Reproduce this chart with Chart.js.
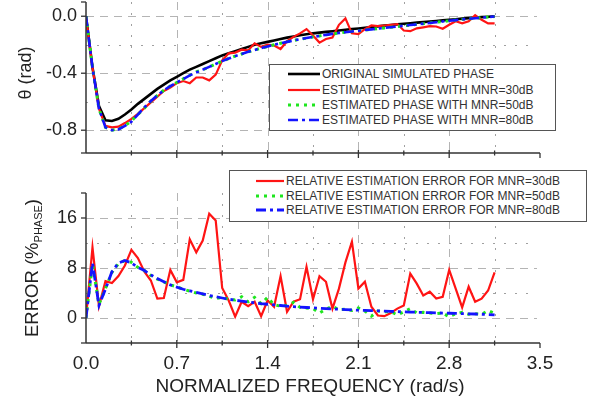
<!DOCTYPE html>
<html>
<head>
<meta charset="utf-8">
<title>Phase estimation</title>
<script src="https://cdn.jsdelivr.net/npm/chart.js@4.4.1/dist/chart.umd.min.js"></script>
<style>
    body { margin: 0; background: #fff; }
    #page {
        position: relative; width: 590px; height: 401px; overflow: hidden;
        font-family: "Liberation Sans", Arial, sans-serif; color: #222;
    }
    #page > canvas { position: absolute; left: 0; z-index: 1; }
    #phaseChart { top: 0; }
    #errorChart { top: 160px; }
    #gridLayer { position: absolute; left: 0; top: 0; width: 590px; height: 401px; z-index: 0; }
    .axisTitle {
        position: absolute; white-space: nowrap; line-height: 1;
        transform: translate(-50%, -50%); z-index: 4;
    }
    .axisTitle.vert { transform: translate(-50%, -50%) rotate(-90deg); }
    .axisTitle sub { font-size: 11px; vertical-align: -4px; }
    .legend {
        position: absolute; background: #fff; border: 1px solid #555;
        box-sizing: border-box; z-index: 5;
    }
    .legend canvas { position: absolute; }
    .legendText {
        position: absolute; white-space: nowrap; font-size: 12px;
        line-height: 14px; height: 14px; color: #333;
    }
</style>
</head>
<body>
<div id="page">
    <div id="gridLayer"></div>
    <canvas id="phaseChart" width="590" height="165"></canvas>
    <canvas id="errorChart" width="590" height="241"></canvas>

    <div class="legend" id="phaseLegend" style="left:269px;top:64px;width:287px;height:67px"></div>
    <div class="legend" id="errorLegend" style="left:229px;top:170px;width:358px;height:52px"></div>

    <div class="axisTitle vert" style="left:25px;top:73px;font-size:18px">θ (rad)</div>
    <div class="axisTitle vert" style="left:33px;top:268px;font-size:18.5px">ERROR (%<sub>PHASE</sub>)</div>
    <div class="axisTitle" style="left:310px;top:385px;font-size:19px">NORMALIZED FREQUENCY (rad/s)</div>
</div>

<script>
/* -----------------------------------------
   Data
----------------------------------------- */
const freq = [
    0.00, 0.05, 0.10, 0.15, 0.20, 0.25, 0.30, 0.35, 0.40, 0.45,
    0.50, 0.55, 0.60, 0.65, 0.70, 0.75, 0.80, 0.85, 0.90, 0.95,
    1.00, 1.05, 1.10, 1.15, 1.20, 1.25, 1.30, 1.35, 1.40, 1.45,
    1.50, 1.55, 1.60, 1.65, 1.70, 1.75, 1.80, 1.85, 1.90, 1.95,
    2.00, 2.05, 2.10, 2.15, 2.20, 2.25, 2.30, 2.35, 2.40, 2.45,
    2.50, 2.55, 2.60, 2.65, 2.70, 2.75, 2.80, 2.85, 2.90, 2.95,
    3.00, 3.05, 3.10, 3.15
];

const xTicks = [0, 0.7, 1.4, 2.1, 2.8, 3.5];
const xMinor = [0.35, 1.05, 1.75, 2.45, 3.15];
const phaseTicks = [-0.8, -0.4, 0];
const phaseMinor = [-0.6, -0.2];
const errorTicks = [0, 8, 16];
const errorMinor = [4, 12];

// phase (rad)
const phaseOriginal = [
    0, -0.36, -0.63, -0.73, -0.735, -0.72, -0.69, -0.655, -0.615, -0.58,
    -0.545, -0.51, -0.48, -0.45, -0.425, -0.40, -0.375, -0.355, -0.335, -0.315,
    -0.295, -0.275, -0.26, -0.245, -0.23, -0.215, -0.20, -0.19, -0.18, -0.17,
    -0.16, -0.15, -0.142, -0.134, -0.127, -0.12, -0.115, -0.11, -0.105, -0.10,
    -0.095, -0.09, -0.086, -0.081, -0.076, -0.071, -0.066, -0.061, -0.057, -0.053,
    -0.049, -0.045, -0.041, -0.037, -0.033, -0.029, -0.025, -0.021, -0.017, -0.013,
    -0.010, -0.006, -0.003, 0
];
const phase30 = [
    0, -0.36, -0.65, -0.77, -0.78, -0.775, -0.75, -0.72, -0.685, -0.645,
    -0.605, -0.565, -0.525, -0.50, -0.47, -0.455, -0.47, -0.43, -0.43, -0.45,
    -0.41, -0.31, -0.26, -0.255, -0.235, -0.24, -0.19, -0.215, -0.20, -0.205,
    -0.23, -0.175, -0.145, -0.12, -0.09, -0.135, -0.185, -0.16, -0.15, -0.06,
    -0.015, -0.12, -0.125, -0.09, -0.065, -0.07, -0.065, -0.06, -0.055, -0.10,
    -0.105, -0.085, -0.078, -0.07, -0.072, -0.088, -0.06, -0.035, -0.05, -0.035,
    0.007, -0.025, -0.05, -0.05
];
const phase50 = [
    0, -0.36, -0.65, -0.78, -0.80, -0.79, -0.77, -0.735, -0.69, -0.645,
    -0.595, -0.555, -0.52, -0.49, -0.465, -0.44, -0.415, -0.39, -0.375, -0.355,
    -0.335, -0.315, -0.297, -0.28, -0.265, -0.25, -0.237, -0.224, -0.212, -0.20,
    -0.19, -0.18, -0.17, -0.161, -0.153, -0.145, -0.138, -0.131, -0.124, -0.118,
    -0.112, -0.107, -0.102, -0.097, -0.092, -0.087, -0.082, -0.077, -0.072, -0.067,
    -0.062, -0.057, -0.052, -0.047, -0.042, -0.037, -0.032, -0.027, -0.022, -0.018,
    -0.014, -0.010, -0.006, -0.002
];
const phase80 = [
    0, -0.36, -0.65, -0.78, -0.80, -0.795, -0.77, -0.74, -0.69, -0.64,
    -0.595, -0.555, -0.52, -0.49, -0.465, -0.44, -0.415, -0.395, -0.375, -0.355,
    -0.335, -0.315, -0.297, -0.28, -0.265, -0.25, -0.237, -0.224, -0.212, -0.20,
    -0.19, -0.18, -0.17, -0.161, -0.153, -0.145, -0.138, -0.131, -0.124, -0.118,
    -0.112, -0.107, -0.102, -0.097, -0.092, -0.087, -0.082, -0.077, -0.072, -0.067,
    -0.062, -0.057, -0.052, -0.047, -0.042, -0.037, -0.032, -0.027, -0.022, -0.018,
    -0.014, -0.010, -0.006, -0.002
];

// relative error (%)
const error30 = [
    0, 11.3, 1.9, 5.9, 5.6, 6.7, 8.4, 10.9, 9.6, 7.4,
    6.0, 3.1, 3.2, 7.7, 5.7, 6.1, 12.6, 10.5, 12.4, 16.7,
    15.6, 4.8, 2.8, 0.2, 2.6, 1.9, 2.6, 0.3, 2.8, 1.8,
    6.7, 1.0, 2.6, 3.0, 8.2, 3.0, 6.7, 5.8, 1.5, 4.7,
    8.9, 12.2, 4.7, 5.8, 1.8, 0.4, 0.3, 0.8, 1.5, 2.0,
    7.1, 5.5, 3.6, 4.2, 3.1, 3.4, 7.7, 4.7, 1.7, 5.0,
    2.6, 3.1, 4.4, 7.3
];
const error50 = [
    0, 8.6, 2.2, 4.7, 7.3, 8.7, 9.2, 8.9, 8.1, 7.6,
    6.8, 6.2, 5.8, 5.3, 5.0, 4.6, 4.3, 4.0, 3.8, 3.5,
    3.1, 3.3, 3.0, 2.9, 3.4, 2.6, 3.3, 2.3, 3.3, 2.1,
    1.9, 2.0, 2.5, 1.7, 1.6, 1.5, 0.8, 1.4, 1.9, 1.3,
    1.4, 1.2, 1.6, 1.1, 0.3, 1.1, 1.0, 1.0, 0.5, 1.0,
    1.5, 0.8, 0.9, 0.8, 0.7, 0.8, 0.2, 0.7, 0.9, 0.6,
    0.7, 0.6, 1.2, 0.7
];
const error80 = [
    0, 8.8, 2.0, 4.6, 7.4, 8.8, 9.2, 8.8, 8.1, 7.6,
    6.9, 6.3, 5.8, 5.3, 4.95, 4.6, 4.35, 4.1, 3.85, 3.6,
    3.4, 3.2, 3.0, 2.85, 2.7, 2.56, 2.43, 2.3, 2.2, 2.1,
    2.0, 1.9, 1.82, 1.75, 1.68, 1.62, 1.56, 1.5, 1.45, 1.4,
    1.35, 1.3, 1.26, 1.22, 1.18, 1.14, 1.1, 1.06, 1.02, 0.98,
    0.95, 0.92, 0.88, 0.85, 0.82, 0.79, 0.76, 0.73, 0.7, 0.67,
    0.64, 0.6, 0.55, 0.5
];

/* -----------------------------------------
   Datasets
----------------------------------------- */
function toPoints(values) {
    return values.map((v, i) => ({ x: freq[i], y: v }));
}

function lineSet(label, values, color, width, dash, order) {
    return {
        label: label,
        data: toPoints(values),
        borderColor: color,
        borderWidth: width,
        borderDash: dash,
        pointRadius: 0,
        tension: 0,
        fill: false,
        order: order
    };
}

const RED = "#ff1414";
const GREEN = "#1ee61e";
const BLUE = "#1414ff";
const GRID = "#b4b4b4";
const GRID_DOT = "#a0a0a0";
const DOTS = [3, 5];
const DASH_DOT = [10, 4, 3, 4];

const phaseSets = [
    lineSet("ORIGINAL SIMULATED PHASE", phaseOriginal, "#000", 2.6, [], 3),
    lineSet("ESTIMATED PHASE WITH MNR=30dB", phase30, RED, 2.2, [], 2),
    lineSet("ESTIMATED PHASE WITH MNR=50dB", phase50, GREEN, 3, DOTS, 1),
    lineSet("ESTIMATED PHASE WITH MNR=80dB", phase80, BLUE, 2.6, DASH_DOT, 0)
];

const errorSets = [
    lineSet("RELATIVE ESTIMATION ERROR FOR MNR=30dB", error30, RED, 2.2, [], 2),
    lineSet("RELATIVE ESTIMATION ERROR FOR MNR=50dB", error50, GREEN, 3, DOTS, 1),
    lineSet("RELATIVE ESTIMATION ERROR FOR MNR=80dB", error80, BLUE, 2.8, DASH_DOT, 0)
];

/* -----------------------------------------
   Axis lines and tick marks
----------------------------------------- */
function strokeLine(ctx, x0, y0, x1, y1) {
    ctx.setLineDash([]);
    ctx.beginPath();
    ctx.moveTo(x0, y0);
    ctx.lineTo(x1, y1);
    ctx.stroke();
}

const axisLines = {
    id: "axisLines",
    afterDraw(chart) {
        const { ctx, chartArea: a, scales } = chart;
        const x = scales.x, y = scales.y;
        ctx.save();
        ctx.strokeStyle = "#333";
        ctx.lineWidth = 1.5;
        strokeLine(ctx, a.left, a.top, a.left, a.bottom);
        strokeLine(ctx, a.left, a.bottom, a.right, a.bottom);
        ctx.lineWidth = 1.3;
        xTicks.slice(1, -1).forEach(v => {
            const px = x.getPixelForValue(v);
            strokeLine(ctx, px, a.bottom - 3, px, a.bottom + 5);
        });
        xMinor.forEach(v => {
            const px = x.getPixelForValue(v);
            strokeLine(ctx, px, a.bottom - 2.5, px, a.bottom + 2.5);
        });
        strokeLine(ctx, a.right, a.bottom, a.right, a.bottom + 5);
        y.ticks.map(t => t.value).concat([y.min, y.max]).forEach(v => {
            const py = y.getPixelForValue(v);
            strokeLine(ctx, a.left - 5, py, a.left, py);
        });
        ctx.restore();
    }
};

/* -----------------------------------------
   Chart options
----------------------------------------- */
const tickFont = { family: "'Liberation Sans', Arial, sans-serif", size: 18 };

function makeOptions(yMin, yMax, yTicks, digits, showX, xHeight, padTop) {
    return {
        responsive: false,
        animation: false,
        devicePixelRatio: 1,
        layout: { autoPadding: false, padding: { top: padTop, right: 50, bottom: 0, left: 0 } },
        plugins: {
            legend: { display: false },
            tooltip: { enabled: false }
        },
        scales: {
            x: {
                type: "linear",
                min: 0,
                max: 3.5,
                afterBuildTicks: s => { s.ticks = xTicks.map(v => ({ value: v })); },
                afterFit: s => { s.height = xHeight; s.paddingLeft = 0; s.paddingRight = 0; },
                grid: { display: false, drawTicks: false },
                border: { display: false },
                ticks: {
                    display: showX,
                    autoSkip: false,
                    maxRotation: 0,
                    padding: 9,
                    color: "#222",
                    font: { family: tickFont.family, size: 19 },
                    callback: v => Number(v).toFixed(1)
                }
            },
            y: {
                type: "linear",
                min: yMin,
                max: yMax,
                afterBuildTicks: s => { s.ticks = yTicks.map(v => ({ value: v })); },
                afterFit: s => { s.width = 86; s.paddingTop = 0; s.paddingBottom = 0; },
                grid: { display: false, drawTicks: false },
                border: { display: false },
                ticks: {
                    padding: 9,
                    color: "#222",
                    font: tickFont,
                    callback: v => Number(v).toFixed(digits)
                }
            }
        }
    };
}

/* -----------------------------------------
   Charts
----------------------------------------- */
const phaseChart = new Chart(document.getElementById("phaseChart"), {
    type: "line",
    data: { datasets: phaseSets },
    options: makeOptions(-0.96, 0.1, phaseTicks, 1, false, 12, 2),
    plugins: [axisLines]
});

const errorChart = new Chart(document.getElementById("errorChart"), {
    type: "line",
    data: { datasets: errorSets },
    options: makeOptions(-4, 20, errorTicks, 0, true, 58, 33),
    plugins: [axisLines]
});

/* -----------------------------------------
   Grid (placed from the chart scales)
----------------------------------------- */
function addGridLine(layer, vertical, pos, from, to, dash, color) {
    const d = document.createElement("div");
    const p = Math.round(pos);
    const period = dash[0] + dash[1];
    d.style.position = "absolute";
    d.style.background = "repeating-linear-gradient(" + (vertical ? "to bottom" : "to right") + ", " +
        color + " 0px, " + color + " " + dash[0] + "px, transparent " + dash[0] + "px, transparent " + period + "px)";
    if (vertical) {
        d.style.left = p + "px";
        d.style.top = from + "px";
        d.style.width = "1px";
        d.style.height = (to - from) + "px";
    } else {
        d.style.left = from + "px";
        d.style.top = p + "px";
        d.style.width = (to - from) + "px";
        d.style.height = "1px";
    }
    layer.appendChild(d);
}

function buildGrid(chart, yMinorValues) {
    const layer = document.getElementById("gridLayer");
    const off = chart.canvas.offsetTop;
    const a = chart.chartArea;
    const x = chart.scales.x, y = chart.scales.y;
    xTicks.slice(1, -1).forEach(v =>
        addGridLine(layer, true, x.getPixelForValue(v), off + a.top, off + a.bottom, [8, 6], GRID));
    xMinor.forEach(v =>
        addGridLine(layer, true, x.getPixelForValue(v), off + a.top, off + a.bottom, [2, 9], GRID_DOT));
    y.ticks.forEach(t =>
        addGridLine(layer, false, off + y.getPixelForValue(t.value), a.left, a.right - 3, [8, 6], GRID));
    yMinorValues.forEach(v =>
        addGridLine(layer, false, off + y.getPixelForValue(v), a.left, a.right - 3, [2, 9], GRID_DOT));
}

// if the plot area of a canvas is not see-through, put the grid in front of it
function plotIsOpaque(chart) {
    const a = chart.chartArea;
    const px = chart.ctx.getImageData(Math.round(a.right - 20), Math.round(a.bottom - 8), 1, 1).data;
    return px[3] > 0;
}

buildGrid(phaseChart, phaseMinor);
buildGrid(errorChart, errorMinor);
if (plotIsOpaque(phaseChart) || plotIsOpaque(errorChart)) {
    document.getElementById("gridLayer").style.zIndex = 3;
}

/* -----------------------------------------
   Legends
----------------------------------------- */
function buildLegend(boxId, sets, rowY, lineX, lineW, textX) {
    const box = document.getElementById(boxId);
    sets.forEach((ds, i) => {
        const sample = document.createElement("canvas");
        sample.width = lineW;
        sample.height = 8;
        sample.style.left = lineX + "px";
        sample.style.top = (rowY[i] - 4) + "px";
        const c = sample.getContext("2d");
        c.strokeStyle = ds.borderColor;
        c.lineWidth = ds.borderWidth;
        c.setLineDash(ds.borderDash);
        c.beginPath();
        c.moveTo(0, 4);
        c.lineTo(lineW, 4);
        c.stroke();
        box.appendChild(sample);

        const txt = document.createElement("div");
        txt.className = "legendText";
        txt.textContent = ds.label;
        txt.style.left = textX + "px";
        txt.style.top = (rowY[i] - 7) + "px";
        box.appendChild(txt);
    });
}

buildLegend("phaseLegend", phaseSets, [9, 24.5, 40, 54.5], 18, 32, 52);
buildLegend("errorLegend", errorSets, [10, 24.5, 39], 26, 28, 56);
</script>
</body>
</html>
